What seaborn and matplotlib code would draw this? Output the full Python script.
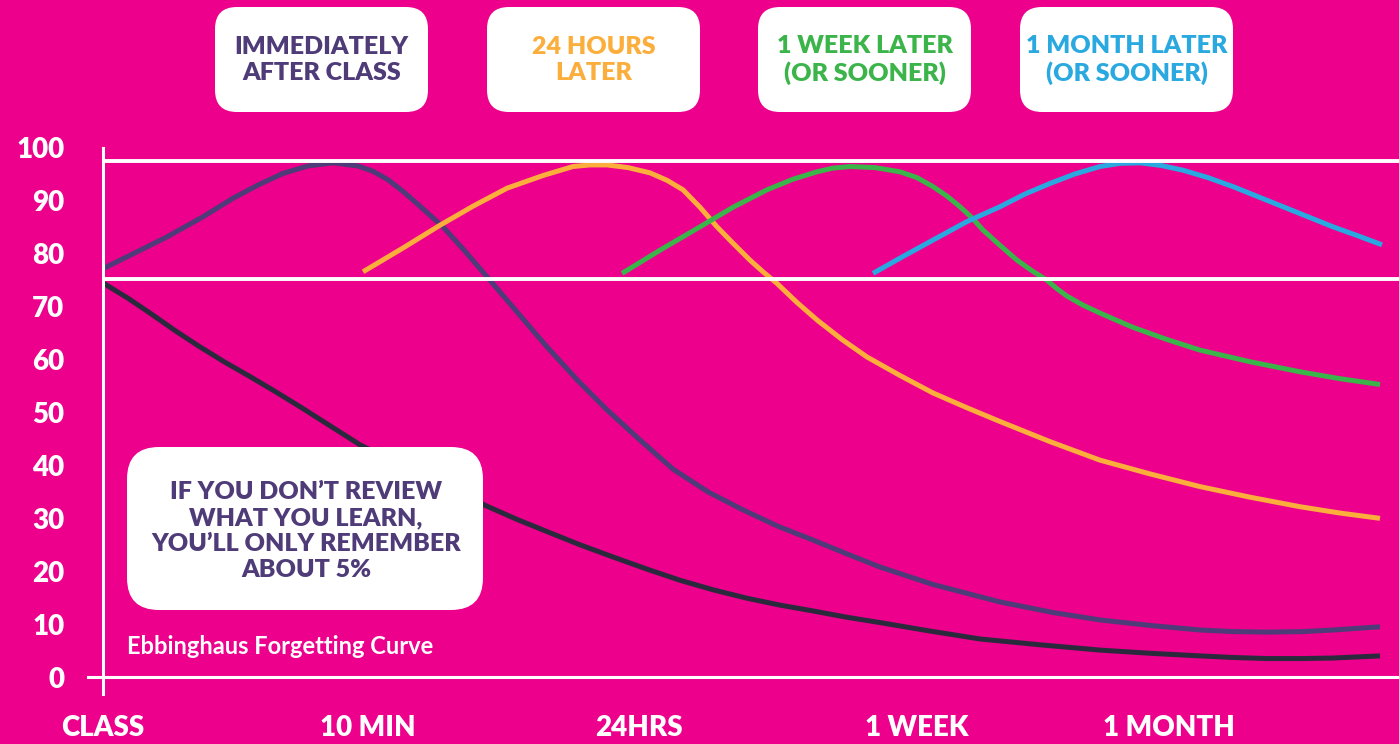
import matplotlib.pyplot as plt
import pandas as pd
import seaborn as sns
from matplotlib.patches import FancyBboxPatch

BG = '#EC008C'
W, H = 1399, 744

# x axis: review moments
tick_pos = [0, 2.65, 5.36, 8.14, 10.66]
tick_labels = ['CLASS', '10 MIN', '24HRS', '1 WEEK', '1 MONTH']
y_ticks = list(range(0, 101, 10))
ref_levels = [97.5, 75.3]

# retention curves (% remembered)
no_review_x = [0, 0.25, 0.47, 0.72, 0.97, 1.22, 1.47, 1.72, 1.97, 2.27, 2.57, 3.20, 3.84, 4.14,
               4.44, 4.77, 5.10, 5.44, 5.77, 6.10, 6.44, 6.77, 7.10, 7.44, 7.77, 8.27, 8.77,
               9.37, 9.97, 10.47, 10.97, 11.30, 11.64, 12.00, 12.30, 12.77]
no_review_y = [74.5, 71.6, 68.8, 65.5, 62.4, 59.5, 56.8, 54.0, 51.1, 47.5, 43.9, 38.0, 32.3, 29.8,
               27.5, 25.0, 22.7, 20.4, 18.3, 16.5, 14.9, 13.6, 12.5, 11.3, 10.3, 8.7, 7.2,
               6.1, 5.1, 4.5, 4.0, 3.7, 3.5, 3.5, 3.6, 4.0]

class_x = [0, 0.30, 0.64, 1.00, 1.30, 1.55, 1.80, 2.05, 2.30, 2.55, 2.70, 2.85, 3.00, 3.14,
           3.40, 3.62, 3.87, 4.15, 4.44, 4.75, 5.04, 5.37, 5.70, 6.05, 6.40, 6.75, 7.10,
           7.45, 7.77, 8.30, 8.97, 9.50, 9.97, 10.50, 10.97, 11.30, 11.64, 12.00, 12.30, 12.77]
class_y = [77.2, 80.0, 83.2, 87.0, 90.5, 93.0, 95.2, 96.6, 97.2, 96.6, 95.6, 94.0, 91.8, 89.5,
           85.1, 80.5, 75.0, 68.8, 62.4, 56.0, 50.5, 44.8, 39.3, 35.0, 31.6, 28.5, 25.9,
           23.2, 20.8, 17.5, 14.2, 12.2, 10.8, 9.7, 8.9, 8.6, 8.5, 8.6, 8.9, 9.5]

day_x = [2.60, 3.00, 3.37, 3.70, 4.04, 4.40, 4.70, 4.87, 5.04, 5.25, 5.47, 5.64, 5.80, 5.97,
         6.14, 6.30, 6.47, 6.60, 6.74, 6.94, 7.14, 7.39, 7.64, 7.97, 8.30, 8.64, 8.97, 9.47,
         9.97, 10.47, 10.97, 11.47, 11.97, 12.37, 12.77]
day_y = [76.6, 81.1, 85.4, 89.0, 92.4, 94.8, 96.5, 96.8, 96.8, 96.3, 95.3, 93.9, 92.1, 88.8,
         85.1, 82.0, 78.8, 76.6, 74.4, 70.8, 67.5, 63.8, 60.5, 57.0, 53.7, 50.9, 48.3, 44.5,
         41.0, 38.4, 36.0, 34.0, 32.2, 31.0, 30.0]

week_x = [5.19, 5.58, 5.97, 6.30, 6.64, 6.90, 7.14, 7.30, 7.47, 7.72, 7.97, 8.14, 8.30, 8.44,
          8.57, 8.69, 8.80, 8.97, 9.14, 9.29, 9.44, 9.54, 9.64, 9.80, 9.97, 10.14, 10.30,
          10.64, 10.97, 11.47, 11.97, 12.37, 12.77]
week_y = [76.3, 80.8, 85.1, 88.8, 92.1, 94.1, 95.5, 96.2, 96.5, 96.3, 95.5, 94.4, 92.7, 90.9,
          88.9, 86.8, 84.5, 81.6, 78.8, 76.8, 75.0, 73.4, 72.0, 70.3, 68.8, 67.4, 66.1,
          63.8, 61.8, 59.6, 57.7, 56.4, 55.3]

month_x = [7.70, 8.00, 8.30, 8.64, 8.97, 9.22, 9.47, 9.72, 9.97, 10.17, 10.37, 10.58, 10.80,
           11.05, 11.30, 11.55, 11.80, 12.05, 12.30, 12.55, 12.79]
month_y = [76.3, 79.5, 82.6, 86.1, 88.9, 91.3, 93.3, 95.1, 96.5, 97.1, 97.2, 96.7, 95.8,
           94.4, 92.7, 90.8, 88.9, 87.0, 85.1, 83.4, 81.7]

series = {
    'no review': (no_review_x, no_review_y, '#2B2A3D'),
    'after class': (class_x, class_y, '#4E3B78'),
    '24 hours': (day_x, day_y, '#FBAE3C'),
    '1 week': (week_x, week_y, '#3BB44A'),
    '1 month': (month_x, month_y, '#29A9E0'),
}

box_labels = ['IMMEDIATELY\nAFTER CLASS', '24 HOURS\nLATER', '1 WEEK LATER\n(OR SOONER)',
              '1 MONTH LATER\n(OR SOONER)']
box_colors = ['#4E3B78', '#FBAE3C', '#3BB44A', '#29A9E0']
box_left = [215, 487, 758, 1020]

df = pd.concat([pd.DataFrame({'time': x, 'retention': y, 'stage': name})
                for name, (x, y, _) in series.items()])
palette = {name: c for name, (_, _, c) in series.items()}

sns.set_theme(style='white')
plt.rcParams['font.family'] = ['Lato', 'DejaVu Sans']

fig = plt.figure(figsize=(W / 100, H / 100), dpi=100, facecolor=BG)
ax = fig.add_axes([88 / W, (H - 694) / H, 1311 / W, 546 / H])
ax.set_facecolor(BG)

sns.lineplot(data=df, x='time', y='retention', hue='stage', palette=palette,
             estimator=None, sort=False, linewidth=3.6, legend=False, ax=ax)
for line in ax.get_lines():
    line.set_solid_joinstyle('round')
    line.set_solid_capstyle('butt')
ax.hlines(ref_levels, 0, 12.96, color='white', linewidth=2.8, zorder=5)

ax.set_xlim(-0.15, 12.96)
ax.set_ylim(-3.2, 100)
for side in ['top', 'right']:
    ax.spines[side].set_visible(False)
ax.spines['left'].set_position(('data', 0))
ax.spines['bottom'].set_position(('data', 0))
for side in ['left', 'bottom']:
    ax.spines[side].set_color('white')
    ax.spines[side].set_linewidth(2.2)
    ax.spines[side].set_zorder(6)

ax.set_xticks(tick_pos)
ax.set_xticklabels(tick_labels)
ax.set_yticks(y_ticks)
ax.set_yticks([100], minor=True)
ax.tick_params(axis='x', direction='out', length=12, width=2.2, color='white',
               labelcolor='white', labelsize=20, pad=15)
ax.tick_params(axis='y', which='major', direction='out', length=10.8, width=2.2,
               color='white', labelcolor='white', labelsize=20, pad=17)
ax.tick_params(axis='y', which='minor', direction='in', length=14, width=2.2, color='white')
for lab in ax.get_xticklabels() + ax.get_yticklabels():
    lab.set_fontweight('heavy')
ax.set_xlabel('')
ax.set_ylabel('')

# overlay in pixel coordinates for the callout boxes
ov = fig.add_axes([0, 0, 1, 1])
ov.set_xlim(0, W)
ov.set_ylim(H, 0)
ov.axis('off')
ov.patch.set_alpha(0)

for left, label, color in zip(box_left, box_labels, box_colors):
    ov.add_patch(FancyBboxPatch((left, 7), 213, 105,
                                boxstyle='round,pad=0,rounding_size=22',
                                facecolor='white', edgecolor='none'))
    ov.text(left + 106.5, 60, label, ha='center', va='center', color=color,
            fontsize=18, fontweight='heavy', linespacing=1.2)

ov.add_patch(FancyBboxPatch((127, 447), 356, 163, boxstyle='round,pad=0,rounding_size=32',
                            facecolor='white', edgecolor='none'))
ov.text(306, 531, 'IF YOU DON\u2019T REVIEW\nWHAT YOU LEARN,\nYOU\u2019LL ONLY REMEMBER\nABOUT 5%',
        ha='center', va='center', color='#4E3B78', fontsize=18, fontweight='heavy',
        linespacing=1.24)
ov.text(127, 646, 'Ebbinghaus Forgetting Curve', ha='left', va='center', color='white',
        fontsize=17, fontweight='bold')

fig.savefig('out.png', dpi=100, facecolor=BG)
